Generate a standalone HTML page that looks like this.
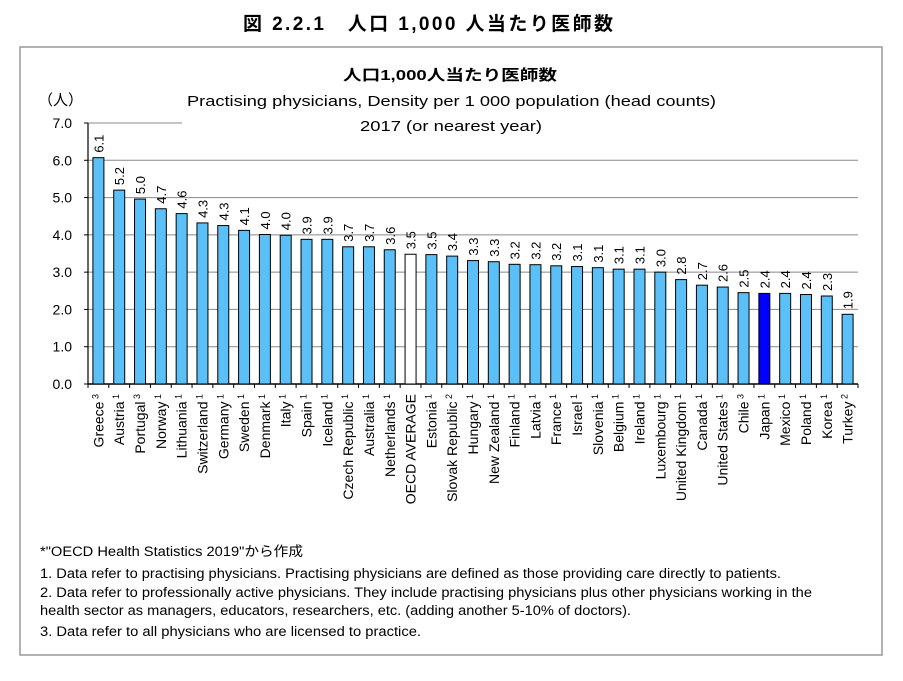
<!DOCTYPE html>
<html><head><meta charset="utf-8"><style>
body{margin:0;background:#fff;width:903px;height:676px;overflow:hidden}
svg text{font-family:"Liberation Sans","Noto Sans CJK JP",sans-serif;fill:#000}
</style></head><body>
<svg id="c" width="903" height="676">
<text x="243" y="30" font-size="19" font-weight="bold" textLength="370" lengthAdjust="spacing">図 2.2.1　人口 1,000 人当たり医師数</text>
<rect x="20" y="47" width="862" height="608" fill="none" stroke="#999" stroke-width="1.5"/>
<g id="grid"></g>
<rect x="182" y="62" width="680" height="70" fill="#fff"/>
<text x="343" y="80" font-size="15" font-weight="bold" textLength="214" lengthAdjust="spacingAndGlyphs">人口1,000人当たり医師数</text>
<text x="187" y="106" font-size="15" textLength="529" lengthAdjust="spacingAndGlyphs">Practising physicians, Density per 1 000 population (head counts)</text>
<text x="360" y="131" font-size="15" textLength="182" lengthAdjust="spacingAndGlyphs">2017 (or nearest year)</text>
<text x="38" y="105" font-size="15">（人）</text>
<g id="bars"></g>
<g font-size="13.5">
<text x="40" y="556" textLength="263" lengthAdjust="spacingAndGlyphs">*"OECD Health Statistics 2019"から作成</text>
<text x="40" y="578" textLength="741" lengthAdjust="spacingAndGlyphs">1. Data refer to practising physicians. Practising physicians are defined as those providing care directly to patients.</text>
<text x="40" y="597" textLength="772" lengthAdjust="spacingAndGlyphs">2. Data refer to professionally active physicians. They include practising physicians plus other physicians working in the</text>
<text x="40" y="615" textLength="591" lengthAdjust="spacingAndGlyphs">health sector as managers, educators, researchers, etc. (adding another 5-10% of doctors).</text>
<text x="40" y="636" textLength="381" lengthAdjust="spacingAndGlyphs">3. Data refer to all physicians who are licensed to practice.</text>
</g>
</svg>
<script>
const categories=["Greece","Austria","Portugal","Norway","Lithuania","Switzerland","Germany","Sweden","Denmark","Italy","Spain","Iceland","Czech Republic","Australia","Netherlands","OECD AVERAGE","Estonia","Slovak Republic","Hungary","New Zealand","Finland","Latvia","France","Israel","Slovenia","Belgium","Ireland","Luxembourg","United Kingdom","Canada","United States","Chile","Japan","Mexico","Poland","Korea","Turkey"];
const notes=["3","1","3","1","1","1","1","1","1","1","1","1","1","1","1","","1","2","1","1","1","1","1","1","1","1","1","1","1","1","1","3","1","1","1","1","2"];
const values=[6.07,5.2,4.96,4.7,4.57,4.32,4.25,4.12,4.01,3.99,3.88,3.88,3.68,3.68,3.6,3.48,3.47,3.43,3.31,3.28,3.21,3.2,3.17,3.15,3.12,3.08,3.08,3.0,2.8,2.65,2.6,2.45,2.43,2.43,2.4,2.36,1.87];
const labels=["6.1","5.2","5.0","4.7","4.6","4.3","4.3","4.1","4.0","4.0","3.9","3.9","3.7","3.7","3.6","3.5","3.5","3.4","3.3","3.3","3.2","3.2","3.2","3.1","3.1","3.1","3.1","3.0","2.8","2.7","2.6","2.5","2.4","2.4","2.4","2.3","1.9"];
const yTicks=[0,1,2,3,4,5,6,7];
const NS="http://www.w3.org/2000/svg";
const x0=88,x1=858,y0=384,yTop=123,yMax=7;
const y=v=>y0-(v/yMax)*(y0-yTop);
const step=(x1-x0)/categories.length;
const xc=i=>x0+step*(i+0.5);
function mk(t,a,p){const e=document.createElementNS(NS,t);for(const k in a)e.setAttribute(k,a[k]);p.appendChild(e);return e;}
const grid=document.getElementById('grid'),bars=document.getElementById('bars');
yTicks.forEach(t=>{
 if(t>0){const l=mk('line',{x1:x0,x2:x1,y1:y(t),y2:y(t),stroke:'#888','stroke-width':1},grid);
 
 }
 const tx=mk('text',{x:72,y:y(t)+5,'font-size':14,'text-anchor':'end'},grid);tx.textContent=t.toFixed(1);
 
 
 mk('line',{x1:x0-4,x2:x0,y1:y(t),y2:y(t),stroke:'#000'},grid);
});
mk('line',{x1:x0,x2:x0,y1:yTop,y2:y0,stroke:'#000','stroke-width':1.2},bars);
mk('line',{x1:x0,x2:x1,y1:y0,y2:y0,stroke:'#000','stroke-width':1.5},bars);
for(let i=0;i<=categories.length;i++)mk('line',{x1:x0+step*i,x2:x0+step*i,y1:y0,y2:y0+4,stroke:'#000'},bars);
categories.forEach((c,i)=>{
 const v=values[i],cx=xc(i);
 const fill=c==="Japan"?"#0000ff":c==="OECD AVERAGE"?"#ffffff":"#5bc0f8";
 const r=mk('rect',{x:cx-5.5,y:y(v),width:11,height:y0-y(v),fill:fill,stroke:'#000','stroke-width':1},bars);
 
 
 const vt=mk('text',{x:0,y:0,'font-size':13,transform:`translate(${cx+5},${y(v)-5}) rotate(-90)`},bars);vt.textContent=labels[i];
 
 
 const ct=mk('text',{x:0,y:0,'font-size':14,'text-anchor':'end',transform:`translate(${cx+5},${y0+10}) rotate(-90)`},bars);
 ct.textContent=c;
 if(notes[i]){const s=mk('tspan',{'font-size':9,dy:-5},ct);s.textContent=' '+notes[i];}
 
 
});
</script>
</body></html>
